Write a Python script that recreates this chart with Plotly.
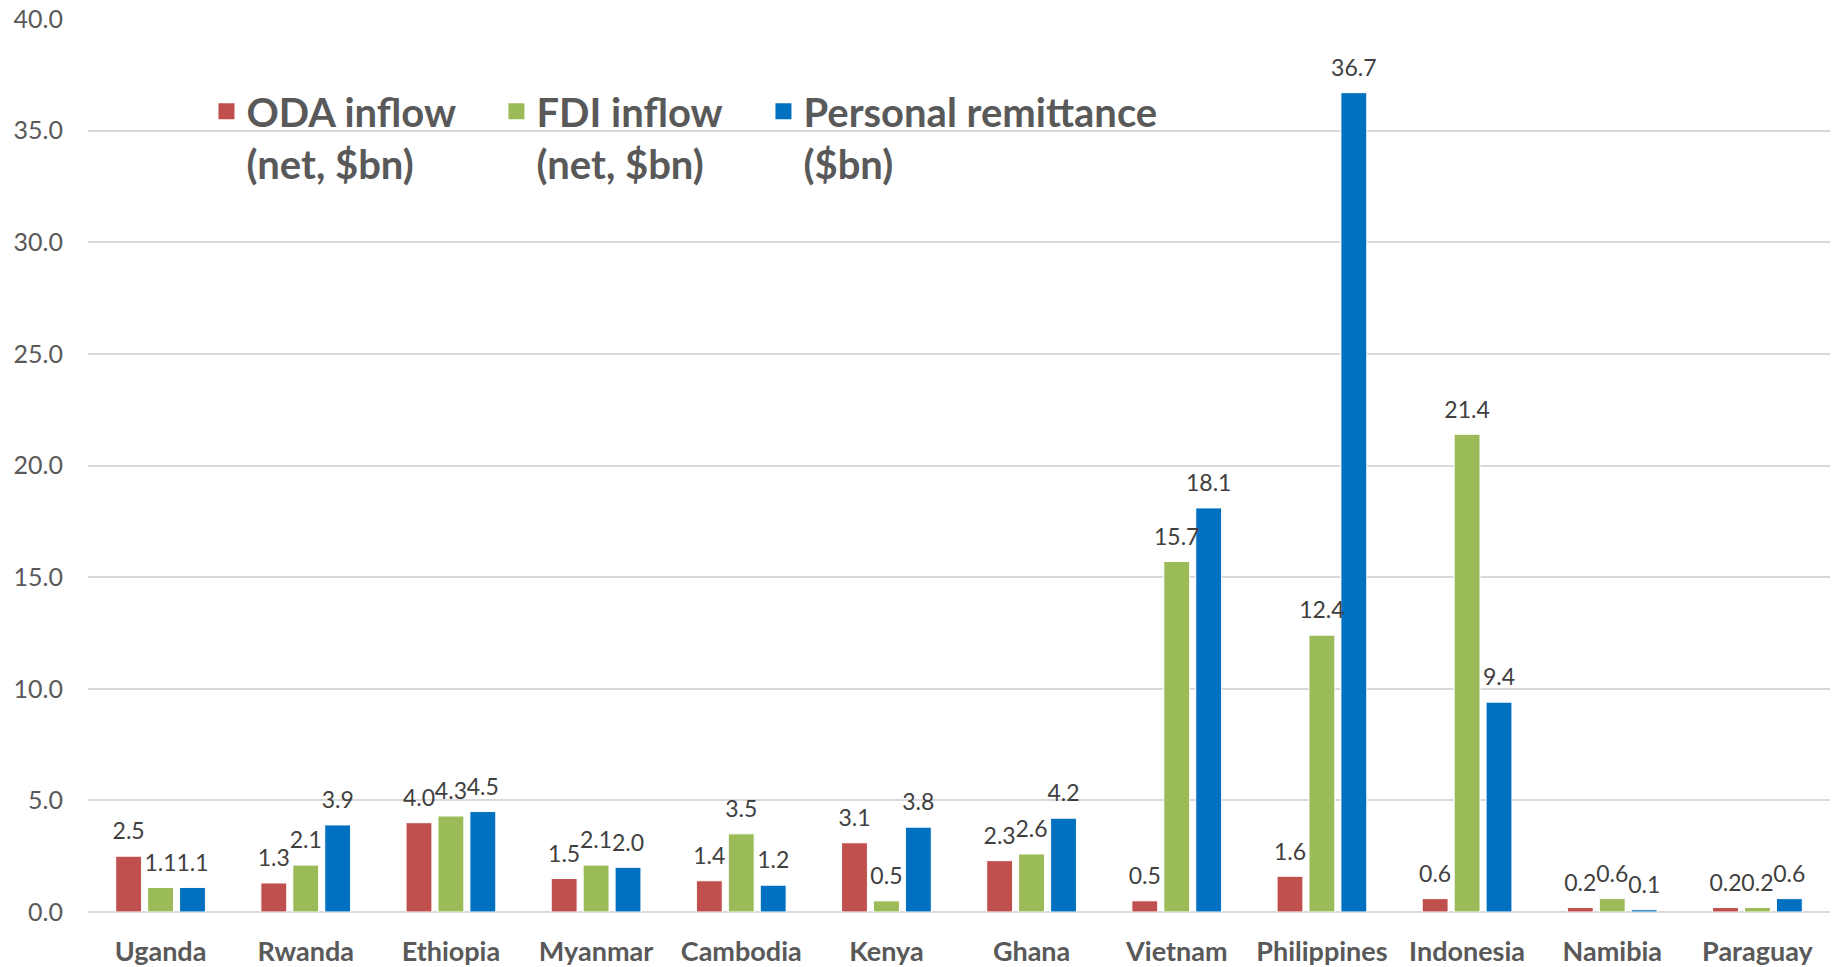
import plotly.graph_objects as go

countries = ["Uganda", "Rwanda", "Ethiopia", "Myanmar", "Cambodia", "Kenya",
             "Ghana", "Vietnam", "Philippines", "Indonesia", "Namibia", "Paraguay"]
oda = [2.5, 1.3, 4.0, 1.5, 1.4, 3.1, 2.3, 0.5, 1.6, 0.6, 0.2, 0.2]
fdi = [1.1, 2.1, 4.3, 2.1, 3.5, 0.5, 2.6, 15.7, 12.4, 21.4, 0.6, 0.2]
rem = [1.1, 3.9, 4.5, 2.0, 1.2, 3.8, 4.2, 18.1, 36.7, 9.4, 0.1, 0.6]

series_names = ["ODA inflow<br>(net, $bn)", "FDI inflow<br>(net, $bn)", "Personal remittance<br>($bn)"]
series_colors = ["#C0504D", "#9BBB59", "#0070C0"]
legend_widths = [245, 222, 360]
groups = ["oda", "fdi", "rem"]

FONT = "Lato"
fig = go.Figure()
for name, vals, col, g in zip(series_names, [oda, fdi, rem], series_colors, groups):
    fig.add_trace(go.Bar(
        x=countries, y=vals, name=name, legendgroup=g, showlegend=False,
        offsetgroup=g,
        marker=dict(color=col, line=dict(color="white", width=1)),
        hoverinfo="x+y",
    ))

# data labels, grouped like the bars
for vals, g in zip([oda, fdi, rem], groups):
    fig.add_trace(go.Scatter(
        x=countries, y=vals, mode="markers+text", offsetgroup=g,
        text=[f"{v:.1f}" for v in vals], textposition="top center",
        textfont=dict(family=FONT, size=23, color="#404040"),
        marker=dict(size=16, color="rgba(0,0,0,0)"),
        showlegend=False, cliponaxis=False, hoverinfo="skip",
    ))

# legend keys (larger square swatches)
for name, col, lw, g in zip(series_names, series_colors, legend_widths, groups):
    fig.add_trace(go.Scatter(
        x=[None], y=[None], mode="markers", name=name, legendgroup=g,
        offsetgroup=g,
        marker=dict(symbol="square", size=16, color=col),
        legendwidth=lw, showlegend=True,
    ))

fig.update_layout(
    width=1839, height=967,
    margin=dict(l=88, r=9, t=19, b=55),
    paper_bgcolor="white", plot_bgcolor="white",
    barmode="group", bargap=0.34, bargroupgap=0.19,
    scattermode="group", scattergap=0.34,
    font=dict(family=FONT, color="#595959"),
    showlegend=True,
    legend=dict(
        orientation="h", x=0.068, y=0.933, xanchor="left", yanchor="top",
        valign="top", bgcolor="rgba(0,0,0,0)", itemsizing="trace",
        font=dict(family=FONT, size=40, color="#595959", weight="bold"),
        traceorder="normal",
    ),
    xaxis=dict(
        showgrid=False, showline=False, ticks="", automargin=False,
        tickfont=dict(family=FONT, size=27, color="#595959", weight="bold"),
        ticklabelstandoff=21,
    ),
    yaxis=dict(
        range=[0, 40], dtick=5, tickformat=".1f", automargin=False,
        showgrid=True, gridcolor="#D9D9D9", gridwidth=2,
        zeroline=True, zerolinecolor="#D9D9D9", zerolinewidth=2,
        showline=False, ticks="",
        tickfont=dict(family=FONT, size=25, color="#595959"),
        ticklabelstandoff=24,
    ),
)

fig.write_html("out.html")
